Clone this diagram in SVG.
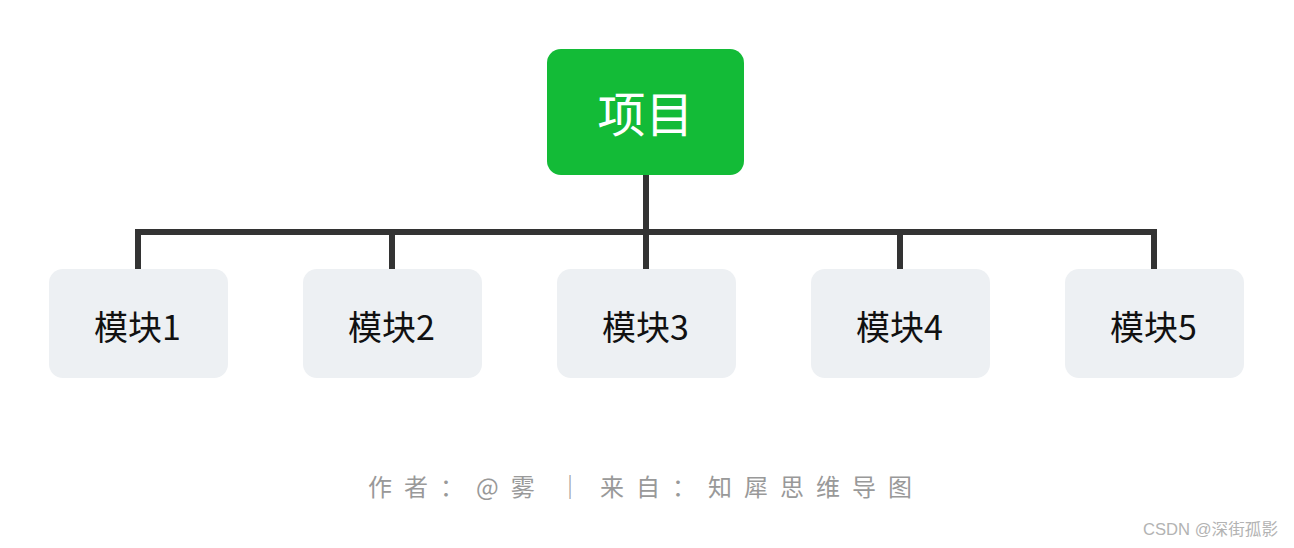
<svg xmlns="http://www.w3.org/2000/svg" width="1294" height="548" viewBox="0 0 1294 548">
<style>
.cjk{font-family:"Noto Sans CJK SC","Noto Sans",sans-serif}
.child rect{fill:#edf0f3}
.child text{font-size:34px;fill:#111;text-anchor:middle}
.conn{stroke:#333;stroke-width:6;fill:none}
</style>
<rect width="1294" height="548" fill="#fff"/>
<g id="connectors">
<path class="conn" d="M646 175V269"/>
<path class="conn" d="M138 269V232H1154V269"/>
<path class="conn" d="M392 232V269M900 232V269"/>
</g>
<g id="root">
<rect x="547" y="49" width="197" height="126" rx="14" fill="#13bb37"/>
<text class="cjk" x="645.5" y="132" font-size="48" fill="#fff" text-anchor="middle">项目</text>
</g>
<g id="m1" class="child"><rect x="49" y="269" width="179" height="109" rx="14"/><text class="cjk" x="137.5" y="340">模块1</text></g>
<g id="m2" class="child"><rect x="303" y="269" width="179" height="109" rx="14"/><text class="cjk" x="391.5" y="340">模块2</text></g>
<g id="m3" class="child"><rect x="557" y="269" width="179" height="109" rx="14"/><text class="cjk" x="645.5" y="340">模块3</text></g>
<g id="m4" class="child"><rect x="811" y="269" width="179" height="109" rx="14"/><text class="cjk" x="899.5" y="340">模块4</text></g>
<g id="m5" class="child"><rect x="1065" y="269" width="179" height="109" rx="14"/><text class="cjk" x="1153.5" y="340">模块5</text></g>
<text class="cjk" y="496" font-size="24" fill="#999"><tspan x="368" letter-spacing="12">作者：@雾</tspan><tspan x="570" text-anchor="middle">｜</tspan><tspan x="600" letter-spacing="12">来自：知犀思维导图</tspan></text>
<text x="1143" y="535" font-family="'Liberation Sans','Noto Sans CJK SC',sans-serif" font-size="16" fill="#b3b3b3" textLength="135" lengthAdjust="spacingAndGlyphs">CSDN @深街孤影</text>
</svg>
